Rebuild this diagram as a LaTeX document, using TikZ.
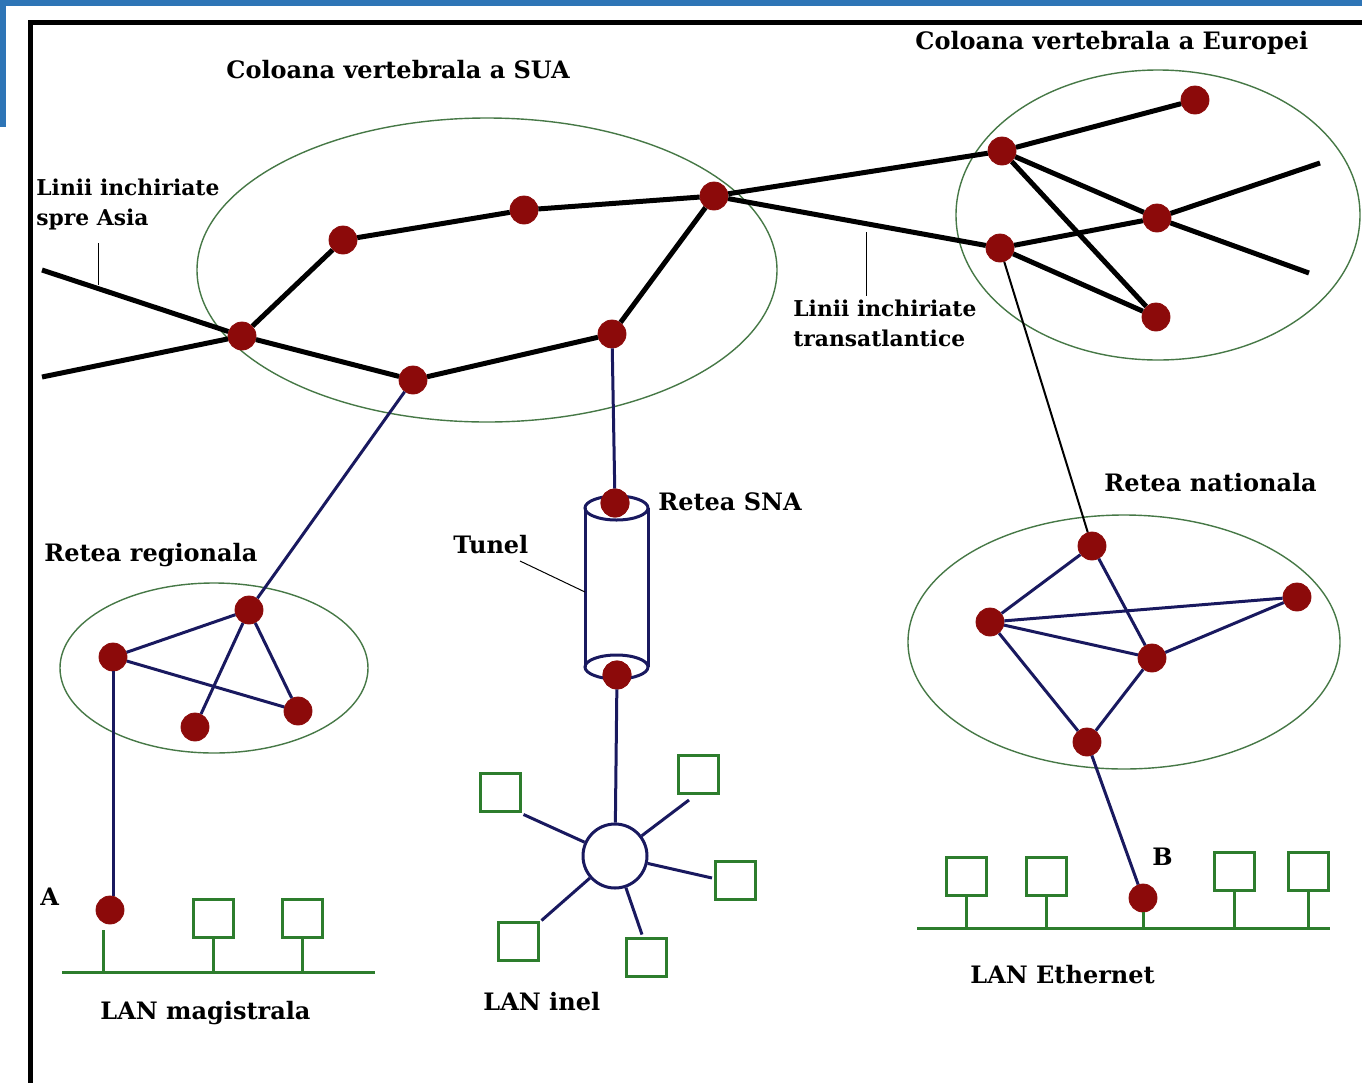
\documentclass[tikz,border=0pt]{standalone}
\usepackage{fontspec}
\setmainfont{DejaVu Serif}
\definecolor{dotred}{RGB}{140,10,10}
\definecolor{navy}{RGB}{25,25,95}
\definecolor{ellgreen}{RGB}{70,120,70}
\definecolor{langreen}{RGB}{45,125,45}
\definecolor{topblue}{RGB}{46,117,182}
\tikzset{
  dot/.style={circle,fill=dotred,draw=dotred,inner sep=0pt,minimum size=14pt},
  bb/.style={line width=2.5pt,black},
  reg/.style={line width=1.5pt,navy},
  grp/.style={line width=0.7pt,ellgreen},
  pc/.style={rectangle,draw=langreen,line width=1.5pt,minimum width=20pt,minimum height=19pt,inner sep=0pt},
  bus/.style={line width=1.5pt,langreen},
  lbl/.style={font=\bfseries\fontsize{12}{15}\selectfont,inner sep=0pt,anchor=west},
  lbls/.style={font=\bfseries\fontsize{10.9}{15}\selectfont,inner sep=0pt,anchor=west,align=left},
  leader/.style={line width=0.5pt,black}
}
\begin{document}
\begin{tikzpicture}[x=0.5pt,y=-0.5pt]
\useasboundingbox (0,0) rectangle (1362,1083);
% blue decoration and frame
\fill[topblue] (0,0) rectangle (1362,6);
\fill[topblue] (0,0) rectangle (6,127);
\draw[line width=2.5pt,black] (1362,22) -- (30,22) -- (30,1083);

% group ellipses
\draw[grp] (487,270) ellipse [x radius=290,y radius=152];
\draw[grp] (1158,215) ellipse [x radius=202,y radius=145];
\draw[grp] (214,668) ellipse [x radius=154,y radius=85];
\draw[grp] (1124,642) ellipse [x radius=216,y radius=127];

% USA backbone nodes
\node[dot] (U1) at (242,336) {};
\node[dot] (U2) at (343,240) {};
\node[dot] (U3) at (524,210) {};
\node[dot] (U4) at (714,196) {};
\node[dot] (U5) at (612,334) {};
\node[dot] (U6) at (413,380) {};
% Europe nodes
\node[dot] (E1) at (1002,151) {};
\node[dot] (E2) at (1000,248) {};
\node[dot] (E3) at (1195,100) {};
\node[dot] (E4) at (1157,218) {};
\node[dot] (E5) at (1156,317) {};
% regional
\node[dot] (R1) at (249,610) {};
\node[dot] (R2) at (113,657) {};
\node[dot] (R3) at (195,727) {};
\node[dot] (R4) at (298,711) {};
\node[dot] (A) at (110,910) {};
% SNA
\node[dot] (S1) at (615,503) {};
\node[dot] (S2) at (617,675) {};
% national
\node[dot] (N1) at (1092,546) {};
\node[dot] (N2) at (990,622) {};
\node[dot] (N3) at (1297,597) {};
\node[dot] (N4) at (1152,658) {};
\node[dot] (N5) at (1087,742) {};
\node[dot] (B) at (1143,898) {};

% free ends
\coordinate (asia1) at (42,270);
\coordinate (asia2) at (42,377);
\coordinate (eu1) at (1320,163);
\coordinate (eu2) at (1309,273);

% backbone links
\draw[bb] (asia1) -- (U1);
\draw[bb] (asia2) -- (U1);
\draw[bb] (U1) -- (U2);
\draw[bb] (U2) -- (U3);
\draw[bb] (U3) -- (U4);
\draw[bb] (U4) -- (U5);
\draw[bb] (U5) -- (U6);
\draw[bb] (U6) -- (U1);
\draw[bb] (U4) -- (E1);
\draw[bb] (U4) -- (E2);
\draw[bb] (E1) -- (E3);
\draw[bb] (E1) -- (E4);
\draw[bb] (E4) -- (eu2);
\draw[bb] (E1) -- (E5);
\draw[bb] (E2) -- (E4);
\draw[bb] (E4) -- (eu1);
\draw[bb] (E2) -- (E5);

% access links
\draw[line width=1pt,black] (E2) -- (N1);
\draw[reg] (U6) -- (R1);
\draw[reg] (U5) -- (S1);
\draw[reg] (R1) -- (R2);
\draw[reg] (R1) -- (R3);
\draw[reg] (R1) -- (R4);
\draw[reg] (R2) -- (R4);
\draw[reg] (R2) -- (R2 |- A.north);
\draw[reg] (N1) -- (N2);
\draw[reg] (N1) -- (N4);
\draw[reg] (N2) -- (N3);
\draw[reg] (N2) -- (N4);
\draw[reg] (N4) -- (N3);
\draw[reg] (N2) -- (N5);
\draw[reg] (N4) -- (N5);
\draw[reg] (N5) -- (B);

% tunnel cylinder
\draw[reg] (585,508) -- (585,667);
\draw[reg] (648,508) -- (648,667);
\draw[reg] (616.5,508) ellipse [x radius=31.5,y radius=12];
\draw[reg] (616.5,667) ellipse [x radius=31.5,y radius=12];
\node[dot] at (S1) {};
\node[dot] at (S2) {};
\coordinate (tun) at (585,592);

% ring LAN
\node[circle,draw=navy,line width=1.5pt,minimum size=32pt,inner sep=0pt] (ring) at (615,856) {};
\draw[reg] (S2) -- (ring);
\node[pc] (P1) at (500,792) {};
\node[pc] (P2) at (698,774) {};
\node[pc] (P3) at (735,880) {};
\node[pc] (P4) at (646,957) {};
\node[pc] (P5) at (518,941) {};
\draw[reg] (P1.south east) ++(2,2) coordinate (p1e) -- (ring);
\draw[reg] (689,800) coordinate (p2e) -- (ring);
\draw[reg] (712,878) coordinate (p3e) -- (ring);
\draw[reg] (P4.north) ++(-4,-2) coordinate (p4e) -- (ring);
\draw[reg] (P5.north east) ++(2,0) coordinate (p5e) -- (ring);

% LAN magistrala
\coordinate (busA1) at (62,972);
\coordinate (busA2) at (375,972);
\draw[bus] (busA1) -- (busA2);
\node[pc] (M1) at (213,918) {};
\node[pc] (M2) at (302,918) {};
\draw[bus] (M1.south) -- (M1.south |- busA1);
\draw[bus] (M2.south) -- (M2.south |- busA1);
\coordinate (astub) at (103,930);
\draw[bus] (astub) -- (astub |- busA1);

% LAN Ethernet
\coordinate (busE1) at (917,928);
\coordinate (busE2) at (1330,928);
\draw[bus] (busE1) -- (busE2);
\node[pc] (Q1) at (966,876) {};
\node[pc] (Q2) at (1046,876) {};
\node[pc] (Q3) at (1234,871) {};
\node[pc] (Q4) at (1308,871) {};
\foreach \q in {Q1,Q2,Q3,Q4} \draw[bus] (\q.south) -- (\q.south |- busE1);
\draw[bus] (B.south) -- (B.south |- busE1);

% labels
\node[lbl] (tSUA) at (226,70) {Coloana vertebrala a SUA};
\node[lbl] (tEU) at (915,43) {Coloana vertebrala a Europei};
\node[lbls] (tAsia) at (36,204) {Linii inchiriate\\spre Asia};
\node[lbls] (tTrans) at (793,323) {Linii inchiriate\\transatlantice};
\node[lbl] (tReg) at (44,555) {Retea regionala};
\node[lbl] (tSNA) at (658,502) {Retea SNA};
\node[lbl] (tTun) at (453,545) {Tunel};
\node[lbl] (tNat) at (1104,483) {Retea nationala};
\node[lbl] (tA) at (40,897) {A};
\node[lbl] (tB) at (1152,857) {B};
\node[lbl] (tMag) at (100,1013) {LAN magistrala};
\node[lbl] (tInel) at (483,1002) {LAN inel};
\node[lbl] (tEth) at (970,975) {LAN Ethernet};

% leaders
\coordinate (la1) at (98,243);
\coordinate (la2) at (98,285);
\draw[leader] (la1) -- (la2);
\coordinate (lt1) at (866,232);
\coordinate (lt2) at (866,296);
\draw[leader] (lt1) -- (lt2);
\coordinate (ltun) at (520,561);
\draw[leader] (ltun) -- (tun);
\end{tikzpicture}
\end{document}
